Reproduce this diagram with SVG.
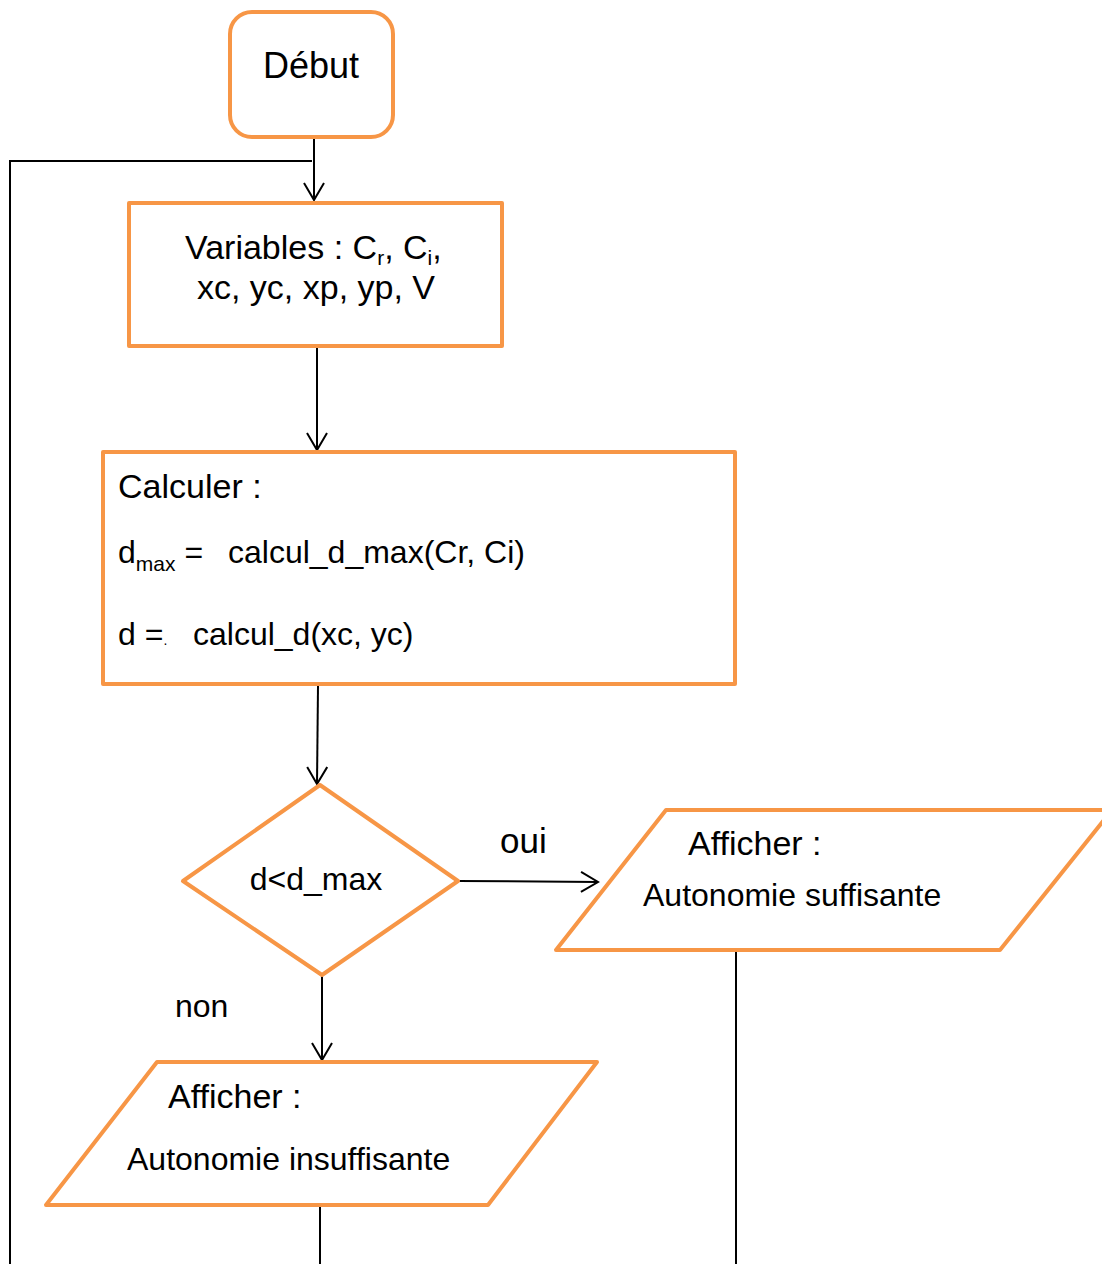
<svg xmlns="http://www.w3.org/2000/svg" width="1102" height="1264" viewBox="0 0 1102 1264">
  <style>
    .shape { fill: #ffffff; stroke: #F79646; stroke-width: 4; stroke-linejoin: round; }
    .wire { fill: none; stroke: #000000; stroke-width: 2; }
    .lbl { font-family: "Liberation Sans", Arial, sans-serif; fill: #000000; }
    .sub { font-size: 21px; }
  </style>
  <defs>
    <marker id="arrow" markerUnits="userSpaceOnUse" markerWidth="24" markerHeight="24" refX="19" refY="11" orient="auto">
      <path d="M2,1 L19,11 L2,21" fill="none" stroke="#000000" stroke-width="2"/>
    </marker>
  </defs>

  <!-- connectors -->
  <g id="connectors">
    <line class="wire" x1="314" y1="138" x2="314" y2="200" marker-end="url(#arrow)"/>
    <polyline class="wire" points="312,161 10,161 10,1264"/>
    <line class="wire" x1="317" y1="348" x2="317" y2="450" marker-end="url(#arrow)"/>
    <line class="wire" x1="318" y1="686" x2="317" y2="784" marker-end="url(#arrow)"/>
    <line class="wire" x1="458" y1="881" x2="598" y2="882" marker-end="url(#arrow)"/>
    <line class="wire" x1="322" y1="976" x2="322" y2="1060" marker-end="url(#arrow)"/>
    <line class="wire" x1="736" y1="951" x2="736" y2="1264"/>
    <line class="wire" x1="320" y1="1206" x2="320" y2="1264"/>
  </g>

  <!-- start -->
  <g id="debut">
    <rect class="shape" x="230" y="12" width="163" height="125" rx="22" ry="22"/>
    <text class="lbl" x="311" y="78" text-anchor="middle" font-size="36">Début</text>
  </g>

  <!-- variable declaration -->
  <g id="variables">
    <rect class="shape" x="129" y="203" width="373" height="143"/>
    <text class="lbl" x="185" y="259" font-size="34">Variables : C<tspan class="sub" dy="6">r</tspan><tspan dy="-6">, C</tspan><tspan class="sub" dy="6">i</tspan><tspan dy="-6">,</tspan></text>
    <text class="lbl" x="316" y="299" text-anchor="middle" font-size="34">xc, yc, xp, yp, V</text>
  </g>

  <!-- computation -->
  <g id="calculer">
    <rect class="shape" x="103" y="452" width="632" height="232"/>
    <text class="lbl" x="118" y="498" font-size="34">Calculer :</text>
    <text class="lbl" x="118" y="563" font-size="32">d<tspan class="sub" dy="8">max</tspan><tspan dy="-8"> =</tspan><tspan x="228">calcul_d_max(Cr, Ci)</tspan></text>
    <text class="lbl" x="118" y="645" font-size="32">d =<tspan font-size="14">.</tspan><tspan x="193">calcul_d(xc, yc)</tspan></text>
  </g>

  <!-- decision -->
  <g id="decision">
    <polygon class="shape" points="320,785 458,881 322,975 183,881"/>
    <text class="lbl" x="316" y="890" text-anchor="middle" font-size="32">d&lt;d_max</text>
  </g>

  <g id="label-oui">
    <text class="lbl" x="500" y="853" font-size="35">oui</text>
  </g>
  <g id="label-non">
    <text class="lbl" x="175" y="1017" font-size="32">non</text>
  </g>

  <!-- output: enough range -->
  <g id="afficher-suffisante">
    <polygon class="shape" points="666,810 1112,810 1000,950 556,950"/>
    <text class="lbl" x="688" y="855" font-size="34">Afficher :</text>
    <text class="lbl" x="643" y="906" font-size="32">Autonomie suffisante</text>
  </g>

  <!-- output: not enough range -->
  <g id="afficher-insuffisante">
    <polygon class="shape" points="157,1062 597,1062 488,1205 46,1205"/>
    <text class="lbl" x="168" y="1108" font-size="34">Afficher :</text>
    <text class="lbl" x="127" y="1170" font-size="32">Autonomie insuffisante</text>
  </g>
</svg>
